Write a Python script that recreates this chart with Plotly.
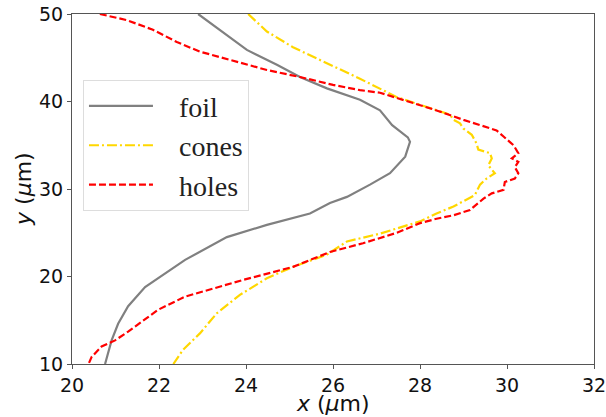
import plotly.graph_objects as go

foil_x = [22.9, 23.40, 24.02, 24.71, 25.24, 25.86, 26.62, 27.08, 27.36, 27.72, 27.77, 27.66, 27.31, 26.85, 26.32,
          25.93, 25.47, 24.48, 23.56, 22.60, 22.14, 21.68, 21.29, 21.06, 20.91, 20.80, 20.76]
foil_y = [50.0, 48.2, 45.9, 44.2, 42.8, 41.5, 40.2, 39.0, 37.3, 35.9, 35.4, 33.7, 31.8, 30.5, 29.1,
          28.4, 27.2, 25.9, 24.5, 21.9, 20.4, 18.8, 16.6, 14.6, 12.7, 10.5, 10.0]

cones_x = [24.05, 24.48, 25.08, 25.86, 26.62, 27.47, 28.0, 28.38, 28.69, 28.77, 28.92, 29.0, 29.19, 29.30, 29.34,
           29.61, 29.65, 29.57, 29.72, 29.53, 29.38, 29.26, 29.0, 28.77, 28.38, 28.0, 27.08, 26.32, 25.86, 25.08,
           24.48, 23.86, 23.33, 22.94, 22.55, 22.33]
cones_y = [50.0, 48.0, 46.2, 44.4, 42.6, 40.5, 39.6, 39.0, 38.5, 37.9, 37.5, 36.9, 36.2, 35.2, 34.5,
           34.1, 33.5, 32.7, 31.8, 31.2, 30.5, 29.3, 28.6, 28.0, 27.2, 26.3, 24.9, 24.0, 22.5, 21.1,
           19.8, 17.9, 15.8, 13.5, 11.6, 10.0]

holes_x = [20.64, 21.26, 21.86, 22.41, 22.94, 23.70, 24.48, 25.24, 26.0, 26.62, 27.08, 28.31, 28.69, 29.0, 29.38,
           29.76, 29.92, 30.15, 30.26, 30.11, 30.26, 30.18, 30.26, 30.18, 29.95, 29.92, 29.65, 29.46, 29.15, 28.77,
           28.38, 28.0, 27.47, 26.69, 25.93, 25.08, 23.93, 22.94, 22.6, 21.98, 21.60, 21.29, 20.99, 20.68, 20.45,
           20.38]
holes_y = [50.0, 49.3, 48.2, 46.8, 45.7, 44.7, 43.6, 42.8, 41.9, 41.3, 41.0, 39.1, 38.4, 37.9, 37.3,
           36.7, 36.0, 35.0, 34.1, 33.5, 33.1, 32.5, 31.8, 31.2, 30.8, 29.9, 29.5, 28.9, 27.6, 27.0,
           26.6, 26.1, 25.0, 23.8, 22.8, 21.1, 19.6, 18.2, 17.7, 16.2, 14.8, 13.7, 12.7, 12.0, 10.8,
           10.0]

x_ticks = [20, 22, 24, 26, 28, 30, 32]
y_ticks = [10, 20, 30, 40, 50]

pad = "\u00a0\u00a0\u00a0"
fig = go.Figure()
fig.add_trace(go.Scatter(x=foil_x, y=foil_y, mode="lines", name=pad + "foil", legendgroup="a",
                         line=dict(color="#808080", width=2.2)))
fig.add_trace(go.Scatter(x=cones_x, y=cones_y, mode="lines", name=pad + "cones", legendgroup="b",
                         line=dict(color="#FFD700", width=2.2, dash="10px,3px,2px,3px")))
fig.add_trace(go.Scatter(x=holes_x, y=holes_y, mode="lines", name=pad + "holes", legendgroup="c",
                         line=dict(color="#FF0000", width=2.2, dash="7px,3px")))

axis_common = dict(showgrid=False, zeroline=False, showline=True, mirror=True, linecolor="#555555",
                   linewidth=1.2, ticks="outside", ticklen=4, tickcolor="#555555", automargin=False,
                   ticklabeloverflow="allow",
                   tickfont=dict(family="DejaVu Sans", size=19, color="#111111"))

fig.update_layout(
    width=606, height=417,
    margin=dict(l=72, r=12, t=14, b=53),
    paper_bgcolor="white", plot_bgcolor="white",
    xaxis=dict(range=[20, 32], tickvals=x_ticks, **axis_common),
    yaxis=dict(range=[10, 50], tickvals=y_ticks, **axis_common),
    legend=dict(x=0.021, y=0.811, xanchor="left", yanchor="top", bgcolor="white",
                bordercolor="#dddddd", borderwidth=1, tracegroupgap=0, itemwidth=64,
                font=dict(family="Liberation Serif", size=28, color="#222222")),
    showlegend=True,
    annotations=[
        dict(text="<i>x</i> (<i>μ</i>m)", xref="paper", yref="paper", x=0.5, y=-0.112,
             xanchor="center", yanchor="middle", showarrow=False,
             font=dict(family="DejaVu Sans", size=22, color="#111111")),
        dict(text="<i>y</i> (<i>μ</i>m)", xref="paper", yref="paper", x=-0.094, y=0.5,
             xanchor="center", yanchor="middle", textangle=-90, showarrow=False,
             font=dict(family="DejaVu Sans", size=22, color="#111111")),
    ],
)

fig.write_html("out.html", config={"displayModeBar": False},
               post_script="document.body.style.margin='0';")
